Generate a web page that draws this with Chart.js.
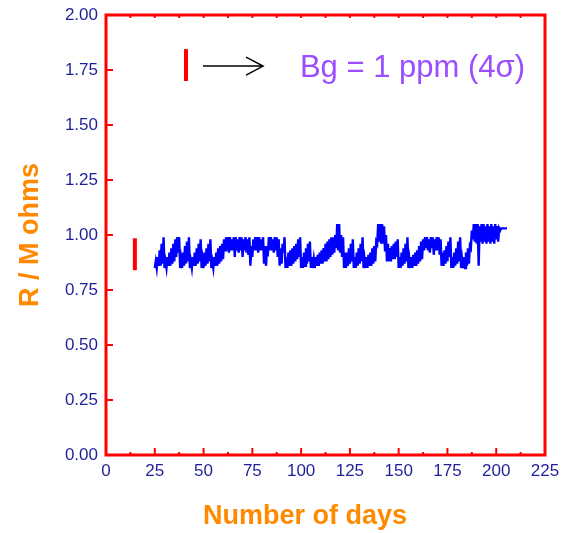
<!DOCTYPE html>
<html>
<head>
<meta charset="utf-8">
<script src="https://cdn.jsdelivr.net/npm/chart.js@4"></script>
<style>
  body { margin: 0; background: #fff; }
</style>
</head>
<body>
<canvas id="resChart" width="562" height="533"></canvas>
<script>
// resistance band, one low/high pair per day from day 25
const lowVals = [
  .85, .85, .86, .86, .87,
  .85, .85, .86, .86, .87, .88, .90, .92,
  .85, .85, .86, .87, .88,
  .85, .85, .86, .86, .87, .88,
  .85, .85, .86, .87, .88,
  .85, .85, .86, .86, .87, .88, .89,
  .93, .93, .92, .93, .93, .90, .93, .92, .93, .90, .93, .92, .91,
  .86, .90, .93, .93, .92, .93, .93,
  .87, .86, .92, .93, .93, .92, .93, .90, .86, .87, .92,
  .85, .85, .86, .86, .87, .88, .89, .90,
  .85, .85, .86, .87, .88,
  .85, .85, .85, .86, .86, .87, .87, .88, .88, .89, .90, .91, .92,
  .94, .93, .92, .90,
  .85, .85, .86, .87, .88,
  .85, .85, .86, .87, .88,
  .85, .85, .85, .86, .86, .87, .88,
  .96, .97, .96, .96, .93,
  .88, .88, .88, .89, .89, .90,
  .85, .85, .86, .87, .88,
  .85, .85, .85, .86, .86, .87, .88, .89,
  .93, .94, .93, .92, .94, .91, .93, .93, .91,
  .86, .86, .87, .88, .90,
  .85, .85, .86, .87, .88,
  .85, .85, .85, .86, .87,
  .94, .98, .97, .96, .86, .97, .96, .97, .96, .97, .96, .97, .96, .98, .97, 1.02, 1.03, 1.03, 1.03
];
const highVals = [
  .88, .90, .93, .96, .99,
  .88, .90, .92, .94, .96, .98, .99, .99,
  .89, .92, .95, .97, .99,
  .88, .90, .92, .94, .96, .98,
  .89, .92, .94, .96, .98,
  .88, .90, .92, .94, .95, .96, .98,
  .99, .99, .99, .98, .99, .99, .98, .99, .99, .98, .99, .98, .99,
  .95, .98, .99, .99, .99, .98, .99,
  .95, .93, .99, .99, .98, .99, .99, .98, .94, .96, .99,
  .90, .92, .93, .94, .95, .96, .98, .99,
  .90, .92, .94, .96, .97,
  .90, .89, .90, .91, .92, .93, .94, .96, .97, .98, .99, .99, 1.00,
  1.05, 1.05, 1.00, .99,
  .92, .92, .94, .96, .98,
  .90, .92, .94, .96, .99,
  .89, .90, .91, .92, .94, .95, .97,
  1.05, 1.05, 1.05, 1.04, 1.00,
  .96, .94, .95, .96, .97, .98,
  .90, .92, .94, .96, .99,
  .89, .90, .91, .92, .93, .95, .97, .98,
  .99, .99, .98, .99, .99, .98, .99, .99, .98,
  .92, .93, .95, .97, .99,
  .90, .92, .94, .97, .99,
  .89, .90, .92, .94, .95,
  1.02, 1.05, 1.05, 1.05, 1.04, 1.05, 1.05, 1.04, 1.05, 1.04, 1.05, 1.04, 1.05, 1.04, 1.03, 1.03, 1.03, 1.03, 1.03
];
const firstDay = 25;

// red error bar beside the data and the one used as key
const errBarX = [14.8, 14.8];
const errBarY = [0.84, 0.985];
const keyBarX = [41, 41];
const keyBarY = [1.70, 1.845];

// arrow and key text (data units)
const arrowFrom = [49.7, 1.768];
const arrowTo = [80.5, 1.768];
const keyText = 'Bg = 1 ppm (4\u03c3)';
const keyTextAt = [99.4, 1.716];

const xTicks = [0, 25, 50, 75, 100, 125, 150, 175, 200, 225];
const yTicks = [0, 0.25, 0.5, 0.75, 1, 1.25, 1.5, 1.75, 2];

const tickColor = '#1f1f99';
const titleColor = '#ff8a00';
const frameColor = '#ff0000';

// zigzag between low and high each day so the band fills in
const bandPts = [];
lowVals.forEach((lo, i) => {
  const d = firstDay + i;
  bandPts.push({ x: d, y: lo });
  bandPts.push({ x: d + 0.5, y: highVals[i] });
});

const framePlugin = {
  id: 'frame',
  afterDraw(chart) {
    const { ctx, chartArea: a, scales: { x, y } } = chart;
    ctx.save();
    ctx.strokeStyle = frameColor;
    ctx.lineWidth = 3;
    ctx.strokeRect(a.left, a.top, a.right - a.left, a.bottom - a.top);

    // inward ticks
    ctx.lineWidth = 2;
    ctx.beginPath();
    xTicks.forEach((v, i) => {
      const px = x.getPixelForValue(v);
      ctx.moveTo(px, a.bottom); ctx.lineTo(px, a.bottom - 7);
      ctx.moveTo(px, a.top); ctx.lineTo(px, a.top + 3);
      if (i < xTicks.length - 1) {
        const pm = x.getPixelForValue(v + 12.5);
        ctx.moveTo(pm, a.bottom); ctx.lineTo(pm, a.bottom - 3);
        ctx.moveTo(pm, a.top); ctx.lineTo(pm, a.top + 3);
      }
    });
    yTicks.forEach(v => {
      const py = y.getPixelForValue(v);
      ctx.moveTo(a.left, py); ctx.lineTo(a.left + 7, py);
    });
    ctx.stroke();

    // arrow
    const x0 = x.getPixelForValue(arrowFrom[0]), y0 = y.getPixelForValue(arrowFrom[1]);
    const x1 = x.getPixelForValue(arrowTo[0]), y1 = y.getPixelForValue(arrowTo[1]);
    ctx.strokeStyle = '#000';
    ctx.lineWidth = 1.5;
    ctx.beginPath();
    ctx.moveTo(x0, y0); ctx.lineTo(x1, y1);
    ctx.moveTo(x1 - 17, y1 - 9); ctx.lineTo(x1, y1); ctx.lineTo(x1 - 17, y1 + 9);
    ctx.stroke();

    // key text
    ctx.fillStyle = '#9b4dff';
    ctx.font = "31px 'Liberation Sans', Arial, sans-serif";
    ctx.textAlign = 'left';
    ctx.textBaseline = 'alphabetic';
    ctx.fillText(keyText, x.getPixelForValue(keyTextAt[0]), y.getPixelForValue(keyTextAt[1]));

    // x axis title
    ctx.fillStyle = titleColor;
    ctx.font = "bold 27px 'Liberation Sans', Arial, sans-serif";
    ctx.textAlign = 'center';
    ctx.textBaseline = 'middle';
    ctx.fillText('Number of days', x.getPixelForValue(102), chart.height - 16);
    ctx.restore();
  }
};

Chart.defaults.font.family = "'Liberation Sans', Arial, sans-serif";

new Chart(document.getElementById('resChart'), {
  type: 'line',
  data: {
    datasets: [
      {
        data: bandPts,
        borderColor: '#0000ff',
        borderWidth: 2.4,
        pointRadius: 0,
        tension: 0
      },
      {
        data: errBarX.map((v, i) => ({ x: v, y: errBarY[i] })),
        borderColor: '#ff0000',
        borderWidth: 4,
        pointRadius: 0
      },
      {
        data: keyBarX.map((v, i) => ({ x: v, y: keyBarY[i] })),
        borderColor: '#ff0000',
        borderWidth: 4,
        pointRadius: 0
      }
    ]
  },
  options: {
    responsive: false,
    animation: false,
    layout: { padding: { left: 0, right: 17, top: 15, bottom: 0 } },
    plugins: {
      legend: { display: false },
      tooltip: { enabled: false }
    },
    scales: {
      x: {
        type: 'linear',
        min: 0,
        max: 225,
        afterBuildTicks: s => { s.ticks = xTicks.map(v => ({ value: v })); },
        ticks: { color: tickColor, font: { size: 17 }, padding: 6, maxRotation: 0 },
        grid: { display: false, drawTicks: false },
        border: { display: false },
        afterFit: s => { s.height = 78; s.paddingLeft = 0; s.paddingRight = 0; }
      },
      y: {
        min: 0,
        max: 2,
        afterBuildTicks: s => { s.ticks = yTicks.map(v => ({ value: v })); },
        ticks: { color: tickColor, font: { size: 17 }, padding: 8, callback: v => v.toFixed(2) },
        grid: { display: false, drawTicks: false },
        border: { display: false },
        title: {
          display: true,
          text: 'R / M ohms',
          color: titleColor,
          font: { size: 27, weight: 'bold' },
          padding: { top: 14, bottom: 0 }
        },
        afterFit: s => { s.width = 106; s.paddingTop = 0; s.paddingBottom = 0; }
      }
    }
  },
  plugins: [framePlugin]
});
</script>
</body>
</html>
